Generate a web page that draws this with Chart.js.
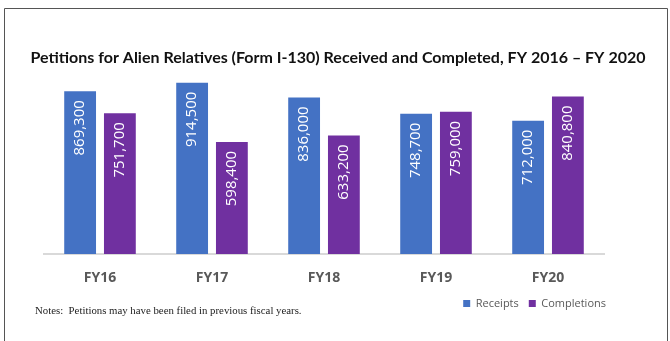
<!DOCTYPE html>
<html><head><meta charset="UTF-8">
<title>Petitions for Alien Relatives (Form I-130)</title>
<style>
    body, html {
        margin: 0;
        padding: 0;
        background-color: #fff;
    }
    #wrap {
        position: relative;
        width: 670px;
        height: 341px;
    }
</style>
<script src="https://cdn.jsdelivr.net/npm/chart.js"></script>
</head>
<body>
<div id="wrap"><canvas id="i130Chart" width="670" height="341"></canvas></div>
<script>
    const years = ['FY16', 'FY17', 'FY18', 'FY19', 'FY20'];
    const receipts = [869300, 914500, 836000, 748700, 712000];
    const completions = [751700, 598400, 633200, 759000, 840800];
    const titleText = 'Petitions for Alien Relatives (Form I-130) Received and Completed, FY 2016 \u2013 FY 2020';
    const noteText = 'Notes:  Petitions may have been filed in previous fiscal years.';

    // white vertical value labels near the top of each bar
    const barValues = {
        id: 'barValues',
        afterDatasetsDraw(chart) {
            const ctx = chart.ctx;
            ctx.save();
            ctx.fillStyle = '#fff';
            ctx.font = '15px "Open Sans", sans-serif';
            ctx.textAlign = 'right';
            ctx.textBaseline = 'middle';
            chart.data.datasets.forEach((ds, i) => {
                chart.getDatasetMeta(i).data.forEach((bar, j) => {
                    ctx.save();
                    ctx.translate(bar.x, bar.y + 9);
                    ctx.rotate(-Math.PI / 2);
                    ctx.fillText(ds.data[j].toLocaleString('en-US'), 0, 0);
                    ctx.restore();
                });
            });
            ctx.restore();
        }
    };

    // frame, heading and footnote (heading drawn here so it is not squeezed to the plot width)
    const frameAndText = {
        id: 'frameAndText',
        afterDraw(chart) {
            const ctx = chart.ctx;
            ctx.save();
            ctx.strokeStyle = '#555';
            ctx.lineWidth = 1;
            ctx.beginPath();
            ctx.moveTo(4.5, 341);
            ctx.lineTo(4.5, 8.5);
            ctx.lineTo(667.5, 8.5);
            ctx.lineTo(667.5, 341);
            ctx.stroke();

            ctx.textBaseline = 'middle';
            ctx.fillStyle = '#111';
            ctx.font = 'bold 16px Lato, sans-serif';
            ctx.textAlign = 'center';
            ctx.fillText(titleText, 338, 58);

            ctx.fillStyle = '#222';
            ctx.font = '10.8px "Liberation Serif", serif';
            ctx.textAlign = 'left';
            ctx.fillText(noteText, 35, 311);
            ctx.restore();
        }
    };

    new Chart(document.getElementById('i130Chart'), {
        type: 'bar',
        data: {
            labels: years,
            datasets: [{
                label: 'Receipts',
                data: receipts,
                backgroundColor: '#4472C4',
                barPercentage: 0.8,
                categoryPercentage: 0.71
            }, {
                label: 'Completions',
                data: completions,
                backgroundColor: '#7030A0',
                barPercentage: 0.8,
                categoryPercentage: 0.71
            }]
        },
        options: {
            responsive: false,
            animation: false,
            layout: {
                padding: { left: 44, right: 54, top: 67.8, bottom: 22 }
            },
            plugins: {
                title: { display: false },
                legend: {
                    position: 'bottom',
                    align: 'end',
                    labels: {
                        boxWidth: 7,
                        boxHeight: 7,
                        color: '#595959',
                        font: { family: '"Open Sans"', size: 11 },
                        padding: 10
                    }
                },
                tooltip: { enabled: false }
            },
            scales: {
                x: {
                    grid: { display: false, drawTicks: false },
                    border: { display: true, color: '#d9d9d9', width: 2 },
                    ticks: {
                        color: '#595959',
                        padding: 16,
                        font: { family: '"Open Sans"', size: 14, weight: 'bold' }
                    },
                    afterFit(scale) { scale.height = 34; }
                },
                y: {
                    position: 'right',
                    min: 0,
                    max: 994000,
                    grid: { display: false },
                    border: { display: false },
                    ticks: { display: false },
                    afterFit(scale) { scale.width = 12; }
                }
            }
        },
        plugins: [barValues, frameAndText]
    });
</script>
</body>
</html>
